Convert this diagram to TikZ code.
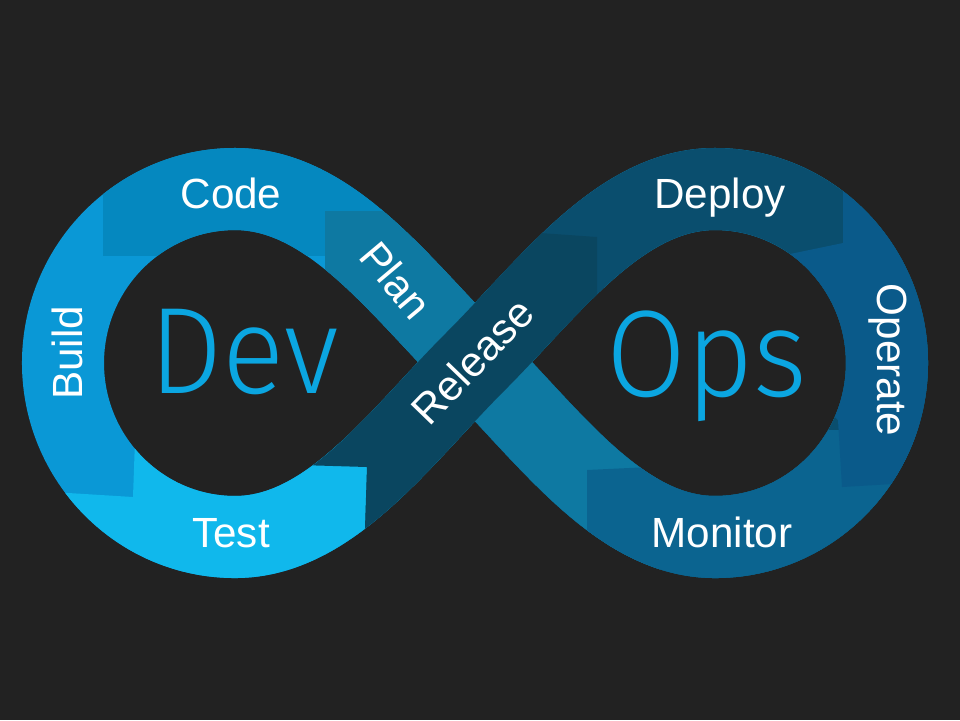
\documentclass[tikz,border=0pt]{standalone}
\usepackage{fontspec}
\setmainfont{Liberation Sans}
\IfFontExistsTF{Fira Sans Light}{%
  \newfontfamily\thinFont{Fira Sans Light}[FakeStretch=0.94]}{%
  \IfFontExistsTF{DejaVuSans-ExtraLight.ttf}{%
    \newfontfamily\thinFont{DejaVuSans-ExtraLight.ttf}[FakeStretch=0.86]}{%
    \newfontfamily\thinFont{Liberation Sans}[FakeStretch=0.9]}}
\usepackage{tikz}
\definecolor{bgGray}{HTML}{222222}
\definecolor{buildBlue}{HTML}{0A98D6}
\definecolor{codeBlue}{HTML}{0588BF}
\definecolor{planBlue}{HTML}{0E79A2}
\definecolor{testBlue}{HTML}{10B8EC}
\definecolor{releaseBlue}{HTML}{0A4660}
\definecolor{deployBlue}{HTML}{0A4E6E}
\definecolor{operateBlue}{HTML}{0A5A8A}
\definecolor{monitorBlue}{HTML}{0B6490}
\definecolor{titleBlue}{HTML}{0BA6E1}
\newcommand{\infinityPath}{(475,362) .. controls (400,287) and (330,189) .. (235,189)
  .. controls (140,189) and (63,267) .. (63,363) .. controls (63,459) and (140,537) .. (235,537)
  .. controls (330,537) and (400,437) .. (475,362) .. controls (550,287) and (620,189) .. (715,189)
  .. controls (810,189) and (887,267) .. (887,363) .. controls (887,459) and (810,537) .. (715,537)
  .. controls (620,537) and (550,437) .. (475,362) -- cycle}
\newcommand{\releasePath}{(235,537) .. controls (330,537) and (400,437) .. (475,362)
  .. controls (550,287) and (620,189) .. (715,189)}
\tikzset{
  band/.style={line width=0.82cm},
  stage/.style={text=white, font=\fontsize{12}{14}\selectfont, anchor=base},
  title/.style={text=titleBlue, font=\thinFont\fontsize{35}{40}\selectfont, anchor=base}
}

\begin{document}
\begin{tikzpicture}[x=0.01cm, y=-0.01cm]

        \fill[bgGray] (0,0) rectangle (960,720); %background

        %% band
        \draw[band, buildBlue] \infinityPath; %left loop
        \begin{scope} % right loop
            \clip (476,0) rectangle (960,720);
            \draw[band, deployBlue] \infinityPath;
        \end{scope}
        \begin{scope} % code patch
            \clip (103,100) -- (103,255) -- (460,255) -- (460,100) -- cycle;
            \draw[band, codeBlue] \infinityPath;
        \end{scope}
        \begin{scope} % plan patch
            \clip (325,211) -- (395,211) -- (600,385) -- (660,440) -- (660,620) -- (325,620) -- cycle;
            \draw[band, planBlue] \infinityPath;
        \end{scope}
        \begin{scope} % test patch
            \clip (20,490) -- (133,497) -- (135,440) -- (367,440) -- (367,467) -- (362,620) -- (20,620) -- cycle;
            \draw[band, testBlue] \infinityPath;
        \end{scope}
        \begin{scope} % monitor patch
            \clip (587,470) -- (650,467) -- (720,430) -- (960,430) -- (960,620) -- (587,620) -- cycle;
            \draw[band, monitorBlue] \infinityPath;
        \end{scope}
        \begin{scope} % operate patch
            \clip (843,150) -- (843,243) -- (790,254) -- (780,363) -- (838,420) -- (842,487) -- (960,480) -- (960,150) -- cycle;
            \draw[band, operateBlue] \infinityPath;
        \end{scope}
        \begin{scope} % release patch, on top at the crossing
            \clip (300,200) -- (300,465) -- (367,467) -- (362,620) -- (597,620) -- (597,237) -- (540,233) -- (540,200) -- cycle;
            \draw[band, releaseBlue] \releasePath;
        \end{scope}

        % titles
        \node[title] (dev) at (244,393) {Dev};
        \node[title] (ops) at (707,396) {Ops};

        % labels
        \node[stage] (code) at (231,208) {Code};
        \node[stage] (test) at (231,547) {Test};
        \node[stage] (deploy) at (720,208) {Deploy};
        \node[stage] (monitor) at (722,547) {Monitor};
        \node[stage, rotate=90] (build) at (82,353) {Build};
        \node[stage, rotate=-90] (operate) at (877,360) {Operate};
        \node[stage, anchor=center, rotate=-50] (plan) at (396,280) {Plan};
        \node[stage, anchor=center, rotate=46] (release) at (472,361) {Release};
    \end{tikzpicture}
\end{document}
